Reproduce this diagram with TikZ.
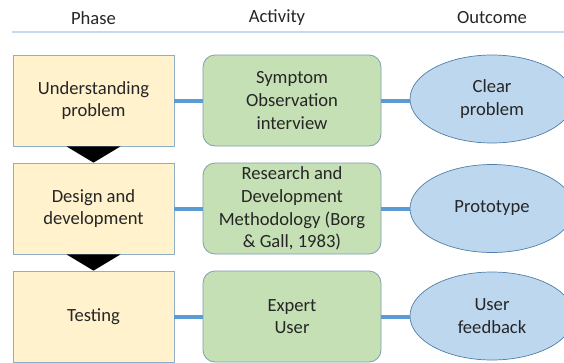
\documentclass[tikz,border=0pt]{standalone}
\usepackage{fontspec}
\setmainfont{Carlito}
\usetikzlibrary{shapes.geometric}
\definecolor{phasefill}{HTML}{FFF2CC}
\definecolor{phaseline}{HTML}{8FAFC9}
\definecolor{actfill}{HTML}{C5E0B4}
\definecolor{actline}{HTML}{7F9DB0}
\definecolor{outfill}{HTML}{BDD7EE}
\definecolor{outline}{HTML}{4F7FA8}
\definecolor{linkblue}{HTML}{5B9BD5}
\definecolor{sepblue}{HTML}{C5DAEE}
\definecolor{inktext}{HTML}{262626}

\begin{document}
\begin{tikzpicture}[x=1pt,y=-1pt,
	every node/.style={text=inktext,font=\fontsize{18.6}{22.7}\selectfont},
	phase/.style={draw=phaseline,fill=phasefill,line width=0.8pt,minimum width=161pt,minimum height=91pt,inner sep=0pt,align=center},
	activity/.style={draw=actline,fill=actfill,line width=0.8pt,rounded corners=12pt,minimum width=178pt,minimum height=91pt,inner sep=0pt,align=center},
	outcome/.style={ellipse,draw=outline,fill=outfill,line width=0.7pt,minimum width=164pt,minimum height=88pt,inner sep=0pt,align=center},
	link/.style={linkblue,line width=4pt}]
	\useasboundingbox (0,0) rectangle (564,362);
	\node (hphase) at (93.5,18) {Phase};
	\node (hact) at (277,18) {Activity};
	\node (hout) at (492,18) {Outcome};
	\draw[sepblue,line width=1.5pt] (12,32) -- (564,32);
	
	\node[phase] (p1) at (93.5,100.5) {Understanding\\problem};
	\node[phase] (p2) at (93.5,208.5) {Design and\\development};
	\node[phase] (p3) at (93.5,316.5) {Testing};
	
	\node[activity] (a1) at (292,100.5) {Symptom\\Observation\\interview};
	\node[activity] (a2) at (292,208.5) {Research and\\Development\\Methodology (Borg\\\& Gall, 1983)};
	\node[activity] (a3) at (292,316.5) {Expert\\User};
	
	\node[outcome] (o1) at (492,99) {Clear\\problem};
	\node[outcome] (o2) at (492,208.5) {Prototype};
	\node[outcome] (o3) at (492,316) {User\\feedback};
	
	\draw[link] (p1) -- (a1);
	\draw[link] (p2) -- (a2);
	\draw[link] (p3) -- (a3);
	\draw[link] (a1.east) -- (a1.east -| o1.west);
	\draw[link] (a2.east) -- (o2.west);
	\draw[link] (a3.east) -- (a3.east -| o3.west);
	
	\fill[black] ([xshift=-27pt]p1.south) -- ([xshift=27pt]p1.south) -- (p2.north) -- cycle;
	\fill[black] ([xshift=-27pt]p2.south) -- ([xshift=27pt]p2.south) -- (p3.north) -- cycle;
\end{tikzpicture}
\end{document}
